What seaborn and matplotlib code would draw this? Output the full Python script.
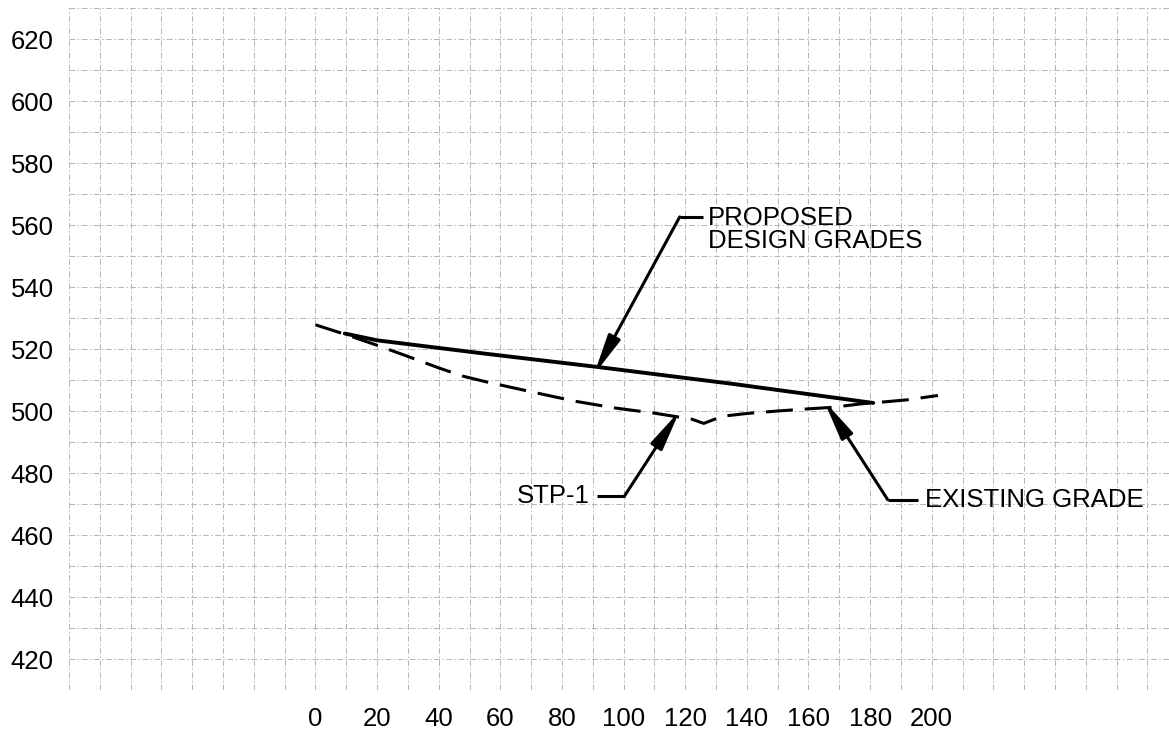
import matplotlib
matplotlib.use("Agg")
import matplotlib.pyplot as plt
from matplotlib.ticker import MultipleLocator, FuncFormatter
import seaborn as sns
import pandas as pd
import numpy as np

# Station (ft) and elevation (ft) along the profile
existing_station = [0, 10, 20, 30, 40, 48, 55, 70, 84, 97, 110, 122, 126,
                    132, 140, 150, 160, 168, 177, 183, 192, 202]
existing_elev = [527.8, 524.6, 521.2, 517.6, 513.9, 511.2, 509.5, 506.2, 503.2,
                 501.0, 499.3, 497.4, 496.0, 498.3, 499.2, 500.0, 500.7, 501.2,
                 502.3, 502.8, 503.6, 505.0]

proposed_station = [9.5, 20, 55, 91.6, 135, 181]
proposed_elev = [525.0, 522.8, 518.5, 514.2, 508.8, 502.6]

x_tick_labels = [0, 20, 40, 60, 80, 100, 120, 140, 160, 180, 200]
y_tick_labels = [420, 440, 460, 480, 500, 520, 540, 560, 580, 600, 620]

# Callouts: text, text anchor, leader start, leader corner, arrow tip, alignment
callouts = [
    ("PROPOSED\nDESIGN GRADES", (127.3, 562.4), (125.6, 562.6), (118.2, 562.6), (91.6, 514.0), "left"),
    ("STP-1", (89.0, 472.6), (91.2, 472.6), (100.3, 472.6), (116.8, 497.9), "right"),
    ("EXISTING GRADE", (197.7, 471.4), (195.5, 471.4), (185.7, 471.4), (166.4, 501.2), "left"),
]

sns.set_theme(style="white")
plt.rcParams["font.family"] = ["Liberation Sans", "DejaVu Sans"]

fig = plt.figure(figsize=(11.69, 7.31), dpi=100)
ax = fig.add_axes([69 / 1169, 41 / 731, 1 - 69 / 1169, 682 / 731])

existing = pd.DataFrame({"station": existing_station, "elev": existing_elev})
proposed = pd.DataFrame({"station": proposed_station, "elev": proposed_elev})

sns.lineplot(data=existing, x="station", y="elev", ax=ax, color="black",
             linewidth=2.2, linestyle=(0, (8.8, 3.9)), sort=False, zorder=3)
sns.lineplot(data=proposed, x="station", y="elev", ax=ax, color="black",
             linewidth=2.8, sort=False, zorder=3)

ax.set_xlim(-80, 277)
ax.set_ylim(410, 630)

for text, tpos, hstart, corner, tip, ha in callouts:
    ax.plot([hstart[0], corner[0]], [hstart[1], corner[1]], color="black",
            linewidth=2.2, solid_capstyle="butt", zorder=4)
    # the filled head stops a little short of its end point; push it on a few pixels
    c_disp = ax.transData.transform(corner)
    t_disp = ax.transData.transform(tip)
    d = t_disp - c_disp
    t_disp = t_disp + d / np.hypot(*d) * 8
    tip_draw = ax.transData.inverted().transform(t_disp)
    ax.annotate("", xy=tuple(tip_draw), xytext=corner,
                arrowprops=dict(arrowstyle="-|>,head_length=1.2,head_width=0.2",
                                mutation_scale=20, color="black", lw=2.2,
                                shrinkA=0, shrinkB=0),
                zorder=4)
    if "\n" in text:
        ax.text(tpos[0], tpos[1] + 3.6, text, ha=ha, va="top", fontsize=18.5,
                color="black", linespacing=0.93, zorder=5)
    else:
        ax.text(tpos[0], tpos[1], text, ha=ha, va="center", fontsize=18.5,
                color="black", zorder=5)

ax.xaxis.set_major_locator(MultipleLocator(10))
ax.yaxis.set_major_locator(MultipleLocator(10))
ax.xaxis.set_major_formatter(FuncFormatter(
    lambda v, p: f"{int(round(v))}" if int(round(v)) in x_tick_labels else ""))
ax.yaxis.set_major_formatter(FuncFormatter(
    lambda v, p: f"{int(round(v))}" if int(round(v)) in y_tick_labels else ""))
ax.tick_params(axis="both", length=0, labelsize=18.5, colors="black")
ax.tick_params(axis="x", pad=12)
ax.tick_params(axis="y", pad=11)
ax.set_xlabel("")
ax.set_ylabel("")
ax.grid(True, color="#b4b4b4", linewidth=0.7, linestyle=(0, (6, 2.5, 1.5, 2.5)))
for s in ax.spines.values():
    s.set_visible(False)

fig.savefig("out.png", dpi=100, facecolor="white")
